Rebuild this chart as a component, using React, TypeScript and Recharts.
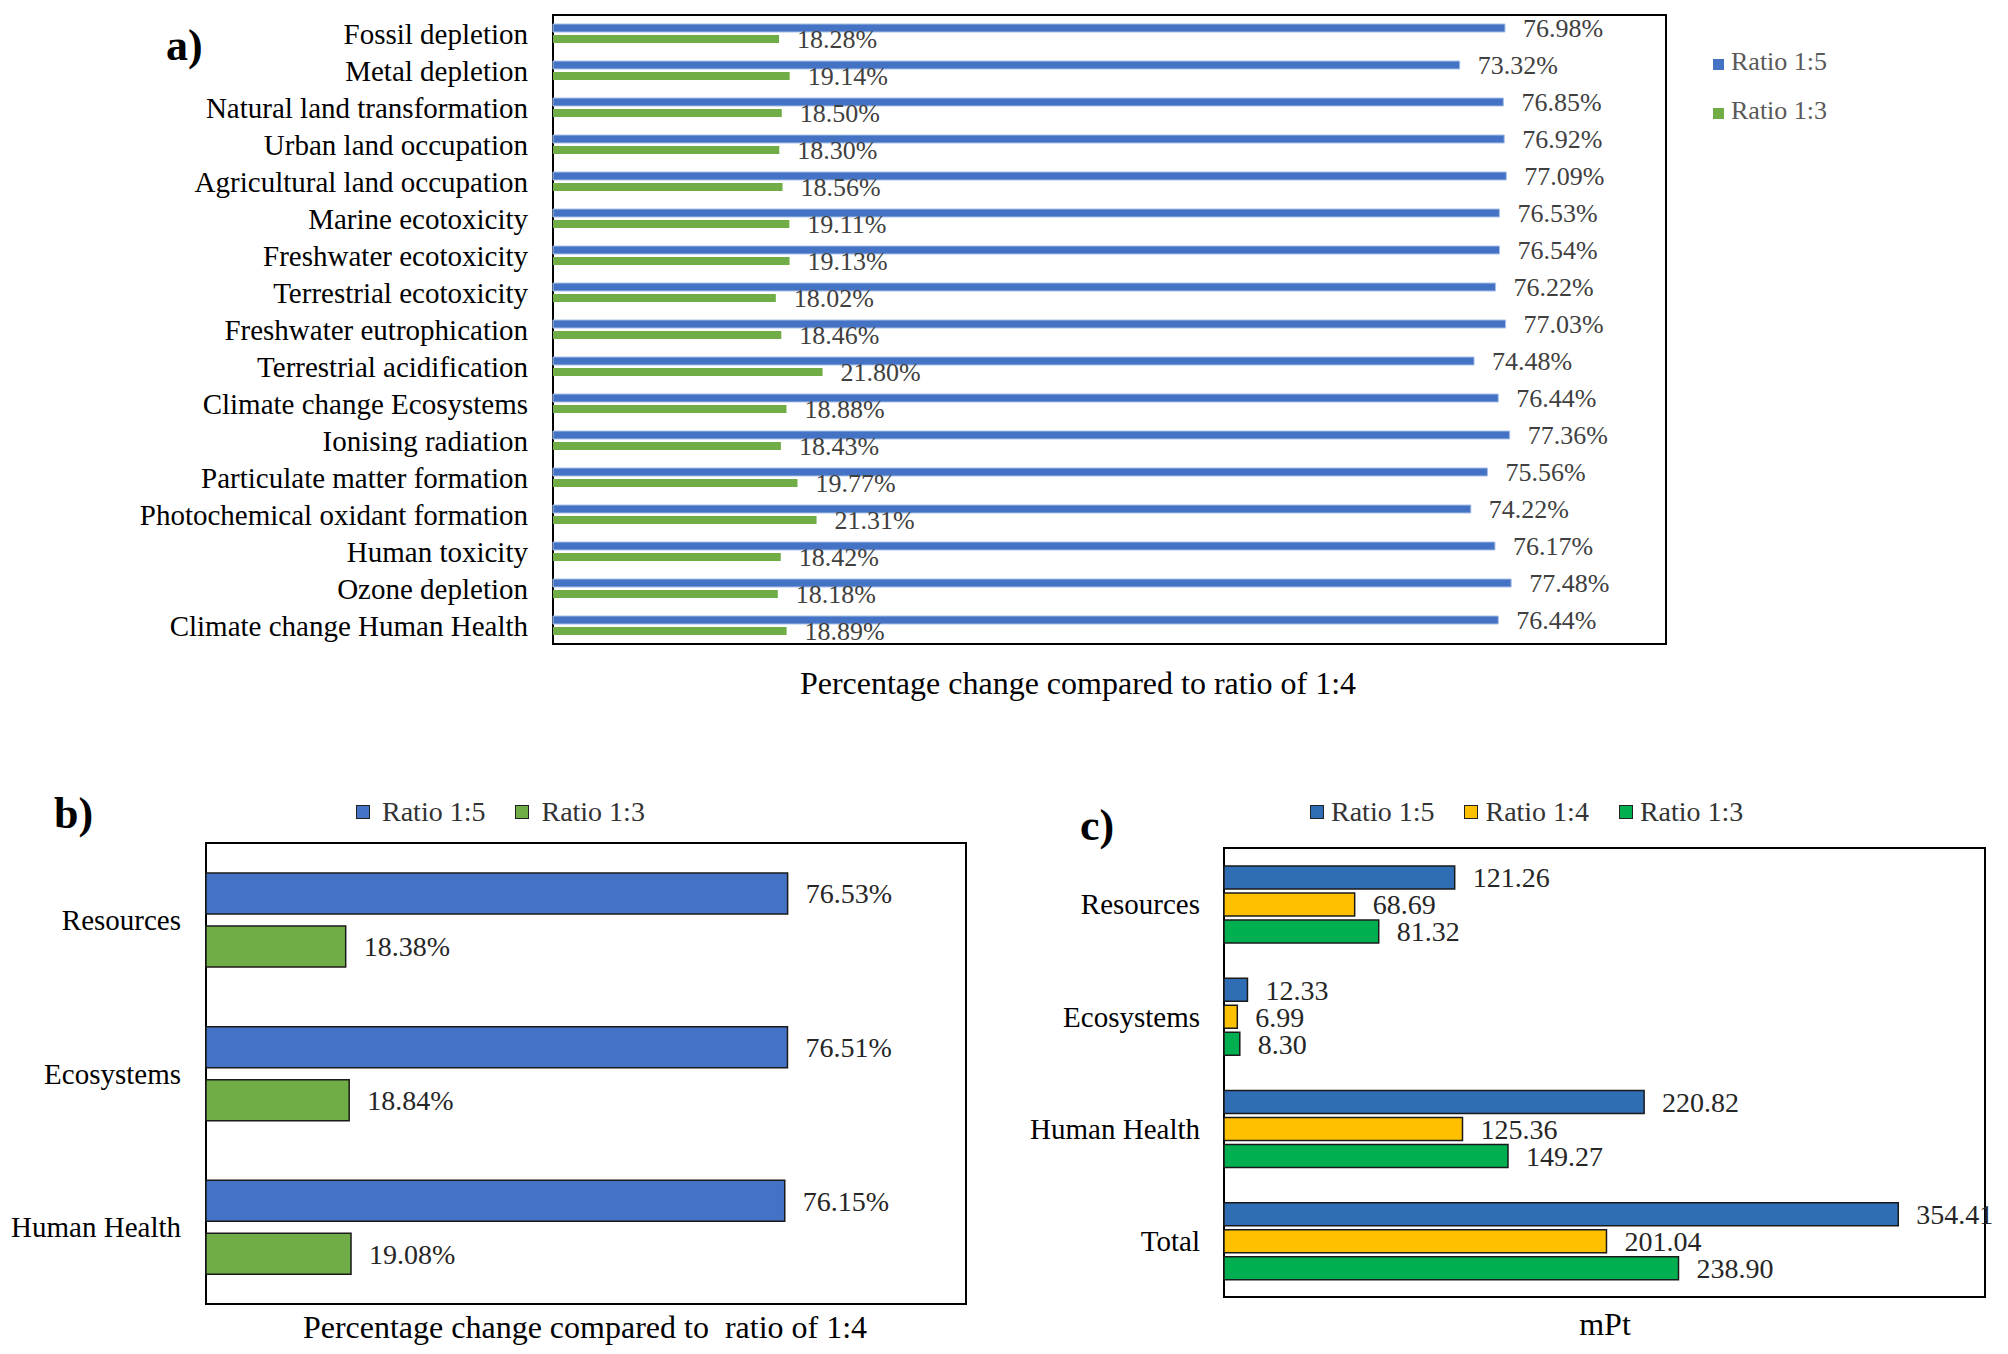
import { BarChart, Bar, XAxis, YAxis, LabelList, ReferenceArea } from "recharts";

const FONT = '"Liberation Serif", "Times New Roman", serif';

// a) midpoint impact categories, % change vs ratio 1:4
const impactCategories = [
  "Fossil depletion",
  "Metal depletion",
  "Natural land transformation",
  "Urban land occupation",
  "Agricultural land occupation",
  "Marine ecotoxicity",
  "Freshwater ecotoxicity",
  "Terrestrial ecotoxicity",
  "Freshwater eutrophication",
  "Terrestrial acidification",
  "Climate change Ecosystems",
  "Ionising radiation",
  "Particulate matter formation",
  "Photochemical oxidant formation",
  "Human toxicity",
  "Ozone depletion",
  "Climate change Human Health",
];
const impactRatio15 = [76.98, 73.32, 76.85, 76.92, 77.09, 76.53, 76.54, 76.22, 77.03, 74.48, 76.44, 77.36, 75.56, 74.22, 76.17, 77.48, 76.44];
const impactRatio13 = [18.28, 19.14, 18.5, 18.3, 18.56, 19.11, 19.13, 18.02, 18.46, 21.8, 18.88, 18.43, 19.77, 21.31, 18.42, 18.18, 18.89];

// b) damage categories, % change vs ratio 1:4
const damageCategories = ["Resources", "Ecosystems", "Human Health"];
const damageRatio15 = [76.53, 76.51, 76.15];
const damageRatio13 = [18.38, 18.84, 19.08];

// c) single scores, mPt
const scoreCategories = ["Resources", "Ecosystems", "Human Health", "Total"];
const scoreRatio15 = [121.26, 12.33, 220.82, 354.41];
const scoreRatio14 = [68.69, 6.99, 125.36, 201.04];
const scoreRatio13 = [81.32, 8.3, 149.27, 238.9];

const impactData = impactCategories.map((name, i) => ({ name, r15: impactRatio15[i], r13: impactRatio13[i] }));
const damageData = damageCategories.map((name, i) => ({ name, r15: damageRatio15[i], r13: damageRatio13[i] }));
const scoreData = scoreCategories.map((name, i) => ({
  name,
  r15: scoreRatio15[i],
  r14: scoreRatio14[i],
  r13: scoreRatio13[i],
}));

const pct = (v: any) => `${Number(v).toFixed(2)}%`;
const fixed2 = (v: any) => Number(v).toFixed(2);

function Swatch({ color, size, outlined, gap = 8 }: { color: string; size: number; outlined?: boolean; gap?: number }) {
  return (
    <span
      style={{
        display: "inline-block",
        width: size,
        height: size,
        background: color,
        border: outlined ? "1.5px solid #222" : "none",
        boxSizing: "border-box",
        marginRight: gap,
      }}
    />
  );
}

function Text({ x, y, size, children, bold, color = "#000", center }: any) {
  return (
    <div
      style={{
        position: "absolute",
        left: x,
        top: y,
        transform: center ? "translate(-50%, -50%)" : "translateY(-50%)",
        fontSize: size,
        fontWeight: bold ? 700 : 400,
        color,
        whiteSpace: "pre",
        lineHeight: 1,
      }}
    >
      {children}
    </div>
  );
}

export default function App() {
  return (
    <div
      style={{
        position: "absolute",
        left: 0,
        top: 0,
        width: 2008,
        height: 1354,
        background: "#fff",
        fontFamily: FONT,
        overflow: "hidden",
      }}
    >
      {/* panel a */}
      <div style={{ position: "absolute", left: 0, top: 0 }}>
        <BarChart
          width={1680}
          height={700}
          layout="vertical"
          data={impactData}
          margin={{ top: 15, right: 14, bottom: 56, left: 0 }}
          barSize={8}
          barGap={3}
          style={{ fontFamily: FONT }}
        >
          <XAxis type="number" domain={[0, 90]} hide />
          <YAxis
            type="category"
            dataKey="name"
            width={553}
            interval={0}
            tickLine={false}
            axisLine={false}
            tickSize={0}
            tickMargin={25}
            tick={{ fontSize: 29, fill: "#000", fontFamily: FONT }}
          />
          <Bar dataKey="r15" name="Ratio 1:5" fill="#4472C4" stroke="#A9C1E8" strokeWidth={1} isAnimationActive={false}>
            <LabelList dataKey="r15" position="right" offset={18} formatter={pct} fill="#404040" fontSize={26} fontFamily={FONT} />
          </Bar>
          <Bar dataKey="r13" name="Ratio 1:3" fill="#70AD47" isAnimationActive={false}>
            <LabelList dataKey="r13" position="right" offset={18} formatter={pct} fill="#404040" fontSize={26} fontFamily={FONT} />
          </Bar>
          <ReferenceArea x1={0} x2={90} fill="none" stroke="#000" strokeWidth={2} />
        </BarChart>
      </div>
      <Text x={166} y={46} size={44} bold>a)</Text>
      <div style={{ position: "absolute", left: 1713, top: 37, fontSize: 26, color: "#595959", lineHeight: "49px" }}>
        <div><Swatch color="#4472C4" size={11} gap={7} />Ratio 1:5</div>
        <div><Swatch color="#70AD47" size={11} gap={7} />Ratio 1:3</div>
      </div>
      <Text x={1078} y={683} size={32} center>Percentage change compared to ratio of 1:4</Text>

      {/* panel b */}
      <div style={{ position: "absolute", left: 0, top: 790 }}>
        <BarChart
          width={1000}
          height={540}
          layout="vertical"
          data={damageData}
          margin={{ top: 53, right: 34, bottom: 26, left: 0 }}
          barSize={41}
          barGap={12}
          style={{ fontFamily: FONT }}
        >
          <XAxis type="number" domain={[0, 100]} hide />
          <YAxis
            type="category"
            dataKey="name"
            width={206}
            interval={0}
            tickLine={false}
            axisLine={false}
            tickSize={0}
            tickMargin={25}
            tick={{ fontSize: 29, fill: "#000", fontFamily: FONT }}
          />
          <Bar dataKey="r15" name="Ratio 1:5" fill="#4472C4" stroke="#1a1a1a" strokeWidth={1.5} isAnimationActive={false}>
            <LabelList dataKey="r15" position="right" offset={18} formatter={pct} fill="#262626" fontSize={28} fontFamily={FONT} />
          </Bar>
          <Bar dataKey="r13" name="Ratio 1:3" fill="#70AD47" stroke="#1a1a1a" strokeWidth={1.5} isAnimationActive={false}>
            <LabelList dataKey="r13" position="right" offset={18} formatter={pct} fill="#262626" fontSize={28} fontFamily={FONT} />
          </Bar>
          <ReferenceArea x1={0} x2={100} fill="none" stroke="#000" strokeWidth={2} />
        </BarChart>
      </div>
      <Text x={54} y={814} size={44} bold>b)</Text>
      <div style={{ position: "absolute", left: 356, top: 812, transform: "translateY(-50%)", fontSize: 28, color: "#333", display: "flex", alignItems: "center" }}>
        <Swatch color="#4472C4" size={14} outlined gap={12} />
        <span style={{ marginRight: 30 }}>Ratio 1:5</span>
        <Swatch color="#70AD47" size={14} outlined gap={12} />
        <span>Ratio 1:3</span>
      </div>
      <Text x={585} y={1327} size={32} center>{"Percentage change compared to  ratio of 1:4"}</Text>

      {/* panel c */}
      <div style={{ position: "absolute", left: 1010, top: 790 }}>
        <BarChart
          width={990}
          height={540}
          layout="vertical"
          data={scoreData}
          margin={{ top: 58, right: 15, bottom: 33, left: 0 }}
          barSize={23}
          barGap={4}
          style={{ fontFamily: FONT, overflow: "visible" }}
        >
          <XAxis type="number" domain={[0, 400]} hide />
          <YAxis
            type="category"
            dataKey="name"
            width={214}
            interval={0}
            tickLine={false}
            axisLine={false}
            tickSize={0}
            tickMargin={24}
            tick={{ fontSize: 29, fill: "#000", fontFamily: FONT }}
          />
          <Bar dataKey="r15" name="Ratio 1:5" fill="#2F6DB5" stroke="#1a1a1a" strokeWidth={1.5} isAnimationActive={false}>
            <LabelList dataKey="r15" position="right" offset={18} formatter={fixed2} fill="#262626" fontSize={28} fontFamily={FONT} />
          </Bar>
          <Bar dataKey="r14" name="Ratio 1:4" fill="#FFC000" stroke="#1a1a1a" strokeWidth={1.5} isAnimationActive={false}>
            <LabelList dataKey="r14" position="right" offset={18} formatter={fixed2} fill="#262626" fontSize={28} fontFamily={FONT} />
          </Bar>
          <Bar dataKey="r13" name="Ratio 1:3" fill="#00B050" stroke="#1a1a1a" strokeWidth={1.5} isAnimationActive={false}>
            <LabelList dataKey="r13" position="right" offset={18} formatter={fixed2} fill="#262626" fontSize={28} fontFamily={FONT} />
          </Bar>
          <ReferenceArea x1={0} x2={400} fill="none" stroke="#000" strokeWidth={2} />
        </BarChart>
      </div>
      <Text x={1080} y={826} size={44} bold>c)</Text>
      <div style={{ position: "absolute", left: 1310, top: 812, transform: "translateY(-50%)", fontSize: 28, color: "#333", display: "flex", alignItems: "center" }}>
        <Swatch color="#2F6DB5" size={14} outlined gap={7} />
        <span style={{ marginRight: 30 }}>Ratio 1:5</span>
        <Swatch color="#FFC000" size={14} outlined gap={7} />
        <span style={{ marginRight: 30 }}>Ratio 1:4</span>
        <Swatch color="#00B050" size={14} outlined gap={7} />
        <span>Ratio 1:3</span>
      </div>
      <Text x={1605} y={1324} size={32} center>mPt</Text>
    </div>
  );
}
